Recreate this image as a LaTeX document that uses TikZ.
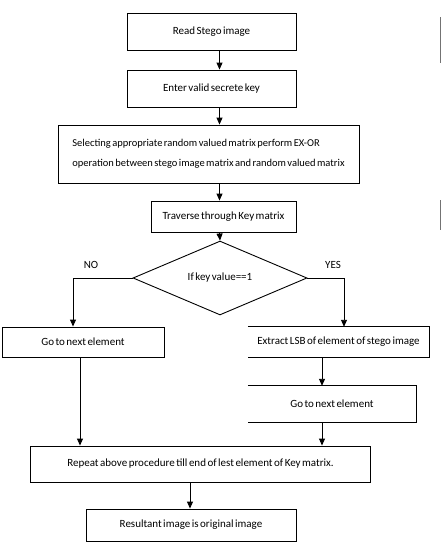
\documentclass[tikz,border=0pt]{standalone}
\usepackage{fontspec}
\setmainfont[WordSpace=0.6]{Carlito}
\usetikzlibrary{arrows.meta,shapes.geometric}
\tikzset{
	stepbox/.style={draw, line width=0.9pt, inner sep=0pt, font=\fontsize{11}{20}\selectfont},
	openbox/.style={inner sep=0pt, font=\fontsize{11}{20}\selectfont},
	flow/.style={line width=0.9pt, -{Triangle[width=6pt,length=7pt]}},
}

\begin{document}
\begin{tikzpicture}[x=1pt, y=-1pt]
		%%%%% START %%%%%
		\useasboundingbox (0, 0) rectangle (441, 549);
		
		\node[stepbox, minimum width=169pt, minimum height=37pt] (read) at (211.5, 31.5) {Read Stego image};
		\node[stepbox, minimum width=169pt, minimum height=37pt] (key) at (211.5, 88.5) {Enter valid secrete key};
		\node[stepbox, minimum width=301pt, minimum height=58pt, align=left, font=\fontsize{10.5}{20}\selectfont] (select) at (208.5, 154) {Selecting appropriate random valued matrix perform EX-OR\\operation between stego image matrix and random valued matrix};
		\node[stepbox, minimum width=145pt, minimum height=31pt] (trav) at (223.5, 216.5) {Traverse through Key matrix};
		
		\node[stepbox, diamond, minimum width=174pt, minimum height=61pt] (dec) at (220, 278) {If key value==1};
		\node[font=\fontsize{11}{12}\selectfont] (no) at (91, 265) {NO};
		\node[font=\fontsize{11}{12}\selectfont] (yes) at (333, 265) {YES};
		
		\node[stepbox, minimum width=162pt, minimum height=30pt] (lnext) at (83, 342) {Go to next element};
		\node[openbox, minimum width=181pt, minimum height=30pt] (lsb) at (338.5, 342) {Extract LSB of element of stego image};
		\node[openbox, minimum width=168pt, minimum height=36pt] (rnext) at (332, 404) {Go to next element};
		\draw[line width=0.9pt] (lsb.north west) -- (lsb.north east) -- (lsb.south east) -- (lsb.south west);
		\draw[line width=0.9pt] (rnext.north west) -- (rnext.north east) -- (rnext.south east) -- (rnext.south west);
		
		\node[stepbox, minimum width=340pt, minimum height=36pt] (rep) at (200.5, 464) {Repeat above procedure till end of lest element of Key matrix.};
		\node[stepbox, minimum width=210pt, minimum height=32pt] (res) at (191, 525) {Resultant image is original image};
		
		% columns of the connectors
		\coordinate (mx) at (219.5, 0);
		\coordinate (lxa) at (73, 0);
		\coordinate (lxb) at (80, 0);
		\coordinate (rxa) at (344, 0);
		\coordinate (rxb) at (322, 0);
		\coordinate (bx) at (190, 0);
		
		\draw[flow] (read.south -| mx) -- (key.north -| mx);
		\draw[flow] (key.south -| mx) -- (select.north -| mx);
		\draw[flow] (select.south -| mx) -- (trav.north -| mx);
		\draw[flow] (trav.south -| mx) -- (dec.north);
		
		\draw[flow] (dec.west) -| (lnext.north -| lxa);
		\draw[flow] (dec.east) -| (lsb.north -| rxa);
		\draw[flow] (lsb.south -| rxb) -- (rnext.north -| rxb);
		\draw[flow] (rnext.south -| rxb) -- (rep.north -| rxb);
		\draw[flow] (lnext.south -| lxb) -- (rep.north -| lxb);
		\draw[flow] (rep.south -| bx) -- (res.north -| bx);
		
		\draw[line width=1pt, color=black!55] (440, 17) -- (440, 63);
		\draw[line width=1pt, color=black!55] (440, 200) -- (440, 230);
		
		%%%%% END %%%%%
	\end{tikzpicture}
\end{document}
